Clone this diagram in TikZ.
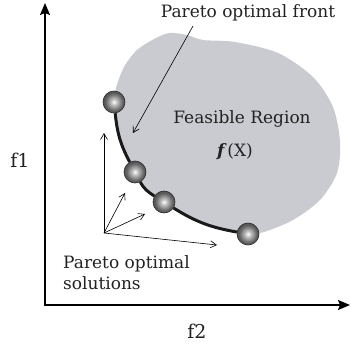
\documentclass[tikz,border=0pt]{standalone}
\usepackage{fontspec}
\setmainfont{DejaVu Serif}
\usetikzlibrary{arrows.meta,positioning,calc}
\definecolor{regiongray}{HTML}{C9CBD0}
\definecolor{balledge}{HTML}{2A2A2A}
\definecolor{inktext}{HTML}{222222}
\pgfdeclareradialshading{paretoball}{\pgfpoint{0bp}{0bp}}{%
  color(0bp)=(white); color(6bp)=(gray!45); color(20bp)=(gray!75!black);
  color(34bp)=(black!78); color(50bp)=(black!85)}

\begin{document}
\begin{tikzpicture}[
  x=1pt, y=1pt,
  axis/.style={-{Stealth[length=12pt,width=10pt,inset=2pt]}, line width=1.4pt, color=black},
  pointer/.style={-{Straight Barb[length=6pt,width=7pt]}, line width=0.6pt, color=black},
  front/.style={line width=3pt, color=black!90},
  region/.style={fill=regiongray},
  ball/.style={circle, draw=balledge, line width=0.6pt, shading=paretoball, minimum size=22pt, inner sep=0pt},
  label/.style={font=\fontsize{17}{21}\selectfont, text=inktext, inner sep=0pt},
  axislabel/.style={font=\fontsize{19}{20}\selectfont, text=inktext, inner sep=0pt}
]
  \useasboundingbox (0,0) rectangle (351,346);
  % points on the front
  \coordinate (p1) at (114,244);
  \coordinate (p2) at (135,174);
  \coordinate (p3) at (164,144);
  \coordinate (p4) at (248,112);
  % feasible region
  \fill[region] plot[smooth] coordinates {(248,112) (264,114) (293,126) (320,146)
      (337,173) (340,204) (333,239) (313,269) (278,293) (235,304) (203,306)
      (187,311) (170,313) (156,308) (137,296) (124,279) (116,258) (114,244)}
    to[out=-84,in=118] (p2) to[out=-62,in=148] (p3) to[out=-32,in=170] (p4) -- cycle;
  % axes
  \coordinate (origin) at (45,41);
  \coordinate (ytip) at (45,343);
  \coordinate (xtip) at (350,41);
  \draw[axis] (origin) -- (ytip);
  \draw[axis] ([xshift=-0.7pt]origin) -- (xtip);
  \node[axislabel] (f1) at (20,186) {f1};
  \node[axislabel] (f2) at (197,15) {f2};
  % balls
  \node[ball] (b1) at (p1) {};
  \node[ball] (b2) at (p2) {};
  \node[ball] (b3) at (p3) {};
  \node[ball] (b4) at (p4) {};
  \draw[front] (b1) to[out=-84,in=118] (b2);
  \draw[front] (b2) to[out=-62,in=148] (b3);
  \draw[front] (b3) to[out=-32,in=170] (b4);
  % labels
  \node[label] (fronttxt) at (248,333) {Pareto optimal front};
  \node[label] (feasible) at (242,227) {Feasible Region};
  \node[label] (fx) at (235,194) {{\bfseries\itshape f}\,(X)};
  \node[label, align=left, anchor=west] (solutions) at (63,73) {Pareto optimal\\solutions};
  \coordinate (frontstart) at (193,320);
  \coordinate (fronttip) at (133,213);
  \draw[pointer] (frontstart) -- (fronttip);
  % directions
  \coordinate (o) at (104,113);
  \coordinate (d1) at (104,213);
  \coordinate (d2) at (125,153);
  \coordinate (d3) at (145,132);
  \coordinate (d4) at (217,101);
  \foreach \d in {d1,d2,d3,d4}
    \draw[pointer] (o) -- (\d);
\end{tikzpicture}
\end{document}
